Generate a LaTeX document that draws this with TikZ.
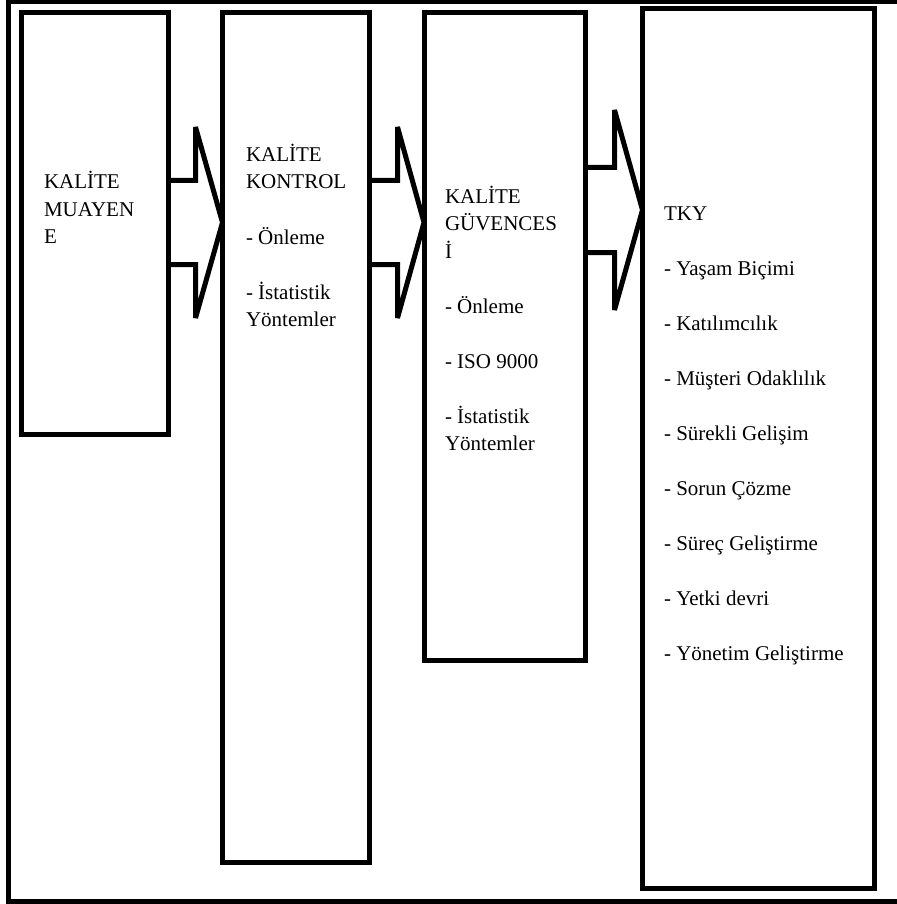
\documentclass[tikz,border=0pt]{standalone}
\usepackage{fontspec}
\setmainfont{LiberationSerif}[Extension=.ttf, UprightFont=*-Regular, BoldFont=*-Bold]
\begin{document}
\begin{tikzpicture}[x=1pt,y=-1pt,
  box/.style={draw, fill=white, rectangle, line width=5pt, inner sep=0pt, outer sep=0pt, anchor=north west},
  lbl/.style={anchor=base west, inner sep=0pt, outer sep=0pt, font=\rmfamily\fontsize{21}{27.5}\selectfont},
  blockarrow/.style={draw, line width=5pt, line join=miter, miter limit=4},
  frame/.style={draw, line width=5pt}]
\useasboundingbox (0,0) rectangle (896,904);
% outer frame (right side lies beyond the page)
\draw[frame] (905,2) -- (8.5,2) -- (8.5,901.5) -- (905,901.5);
% boxes
\path (21.5,12.5) node[box, minimum width=147pt, minimum height=422pt] (b1) {};
\path (222.5,12.5) node[box, minimum width=146.5pt, minimum height=849.5pt] (b2) {};
\path (424,12.5) node[box, minimum width=161.5pt, minimum height=647.5pt] (b3) {};
\path (642.5,8.5) node[box, minimum width=232pt, minimum height=880pt] (b4) {};
% block arrows
\draw[blockarrow] (b1.east |- 0,180.5) -- (195.5,180.5) -- (195.5,127) -- (b2.west |- 0,222.5)
  -- (195.5,318) -- (195.5,264.5) -- (b1.east |- 0,264.5);
\draw[blockarrow] (b2.east |- 0,180.5) -- (397.5,180.5) -- (397.5,127) -- (b3.west |- 0,222.5)
  -- (397.5,318) -- (397.5,264.5) -- (b2.east |- 0,264.5);
\draw[blockarrow] (b3.east |- 0,167.5) -- (614.5,167.5) -- (614.5,110) -- (b4.west |- 0,210)
  -- (614.5,310) -- (614.5,252.5) -- (b3.east |- 0,252.5);
% redraw boxes on top so arrow tips end at box edges
\draw[line width=5pt, fill=white] (b2.north west) rectangle (b2.south east);
\draw[line width=5pt, fill=white] (b3.north west) rectangle (b3.south east);
\draw[line width=5pt, fill=white] (b4.north west) rectangle (b4.south east);
% texts
\foreach \t/\y [count=\i] in {KALİTE/189, MUAYEN/216, E/243}
  \node[lbl] (ta\i) at (44,\y) {\t};
\foreach \t/\y [count=\i] in {KALİTE/161.5, KONTROL/189, - Önleme/244, - İstatistik/299, Yöntemler/326.5}
  \node[lbl] (tb\i) at (246,\y) {\t};
\foreach \t/\y [count=\i] in {KALİTE/203, GÜVENCES/230.5, İ/258, - Önleme/313, - ISO 9000/368, - İstatistik/423, Yöntemler/450.5}
  \node[lbl] (tc\i) at (445,\y) {\t};
\foreach \t/\y [count=\i] in {TKY/220, - Yaşam Biçimi/275, - Katılımcılık/330, - Müşteri Odaklılık/385, - Sürekli Gelişim/440, - Sorun Çözme/495, - Süreç Geliştirme/550, - Yetki devri/605, - Yönetim Geliştirme/660}
  \node[lbl] (td\i) at (664,\y) {\t};
\end{tikzpicture}
\end{document}
